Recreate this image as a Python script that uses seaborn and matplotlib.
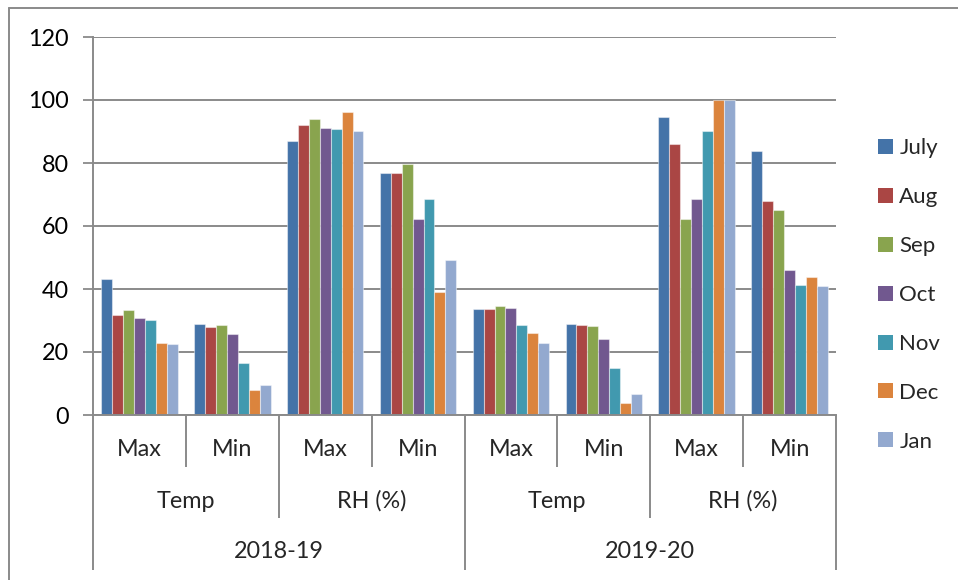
import matplotlib
matplotlib.use("Agg")
import matplotlib.pyplot as plt
from matplotlib.lines import Line2D
import seaborn as sns
import pandas as pd

# ---------------- data ----------------
years = ["2018-19", "2019-20"]
params = ["Temp", "RH (%)"]
stats = ["Max", "Min"]
months = ["July", "Aug", "Sep", "Oct", "Nov", "Dec", "Jan"]

# values per category (year / parameter / stat), one per month
temp_max_1819 = [43.2, 31.9, 33.2, 30.8, 30.2, 22.9, 22.4]
temp_min_1819 = [28.9, 27.8, 28.6, 25.7, 16.4, 7.9, 9.4]
rh_max_1819 = [87.0, 92.0, 94.0, 91.1, 90.7, 96.1, 90.1]
rh_min_1819 = [76.9, 76.9, 79.7, 62.3, 68.5, 39.0, 49.2]
temp_max_1920 = [33.7, 33.8, 34.6, 34.0, 28.6, 25.9, 22.9]
temp_min_1920 = [29.0, 28.6, 28.1, 24.2, 15.0, 3.8, 6.8]
rh_max_1920 = [94.5, 85.9, 62.3, 68.5, 90.1, 100.0, 100.0]
rh_min_1920 = [83.9, 67.9, 65.0, 45.9, 41.4, 43.9, 40.9]

colors = ["#4473A8", "#AA4644", "#89A44E", "#71588F", "#4199AF", "#DB843D", "#93A9CF"]
y_ticks = [0, 20, 40, 60, 80, 100, 120]

series = [
    ("2018-19", "Temp", "Max", temp_max_1819),
    ("2018-19", "Temp", "Min", temp_min_1819),
    ("2018-19", "RH (%)", "Max", rh_max_1819),
    ("2018-19", "RH (%)", "Min", rh_min_1819),
    ("2019-20", "Temp", "Max", temp_max_1920),
    ("2019-20", "Temp", "Min", temp_min_1920),
    ("2019-20", "RH (%)", "Max", rh_max_1920),
    ("2019-20", "RH (%)", "Min", rh_min_1920),
]

rows = []
for yr, par, st, vals in series:
    for m, v in zip(months, vals):
        rows.append({"cat": f"{yr}|{par}|{st}", "year": yr, "param": par,
                     "stat": st, "month": m, "value": v})
df = pd.DataFrame(rows)
cat_order = [f"{yr}|{par}|{st}" for yr, par, st, _ in series]

# ---------------- figure ----------------
sns.set_style("white")
plt.rcParams["font.family"] = ["Lato", "DejaVu Sans"]

W, H = 958, 580
fig = plt.figure(figsize=(W / 100, H / 100), dpi=100)
L, R, T, B = 93, 836, 37, 415
ax = fig.add_axes([L / W, 1 - B / H, (R - L) / W, (B - T) / H])

grid_c = "#8A8A8A"
sns.barplot(data=df, x="cat", y="value", hue="month", order=cat_order,
            hue_order=months, palette=colors, saturation=1, width=0.8235,
            dodge=True, ax=ax, errorbar=None, edgecolor=(1, 1, 1, 0.45),
            linewidth=0.8, zorder=3)

fs = 16.8
ax.set_xlim(-0.5, len(cat_order) - 0.5)
ax.set_ylim(0, 120)
ax.set_yticks(y_ticks)
ax.set_yticklabels([str(t) for t in y_ticks], fontsize=fs, color="black")
ax.yaxis.grid(True, color=grid_c, linewidth=1.4, zorder=0)
ax.set_axisbelow(True)
ax.tick_params(axis="y", length=7.2, width=1.3, color=grid_c, pad=10, direction="out", left=True)
ax.tick_params(axis="x", length=0, labelbottom=False)
ax.set_xlabel("")
ax.set_ylabel("")
for s in ["top", "right"]:
    ax.spines[s].set_visible(False)
for s in ["left", "bottom"]:
    ax.spines[s].set_color(grid_c)
    ax.spines[s].set_linewidth(1.4)
    ax.spines[s].set_zorder(4)

# ---------------- hierarchical category axis ----------------
ph = B - T
def ay(py):
    return (B - py) / ph

trans = ax.get_xaxis_transform()
lvl1, lvl2, lvl3 = ay(467), ay(518), ay(570)
n = len(cat_order)
for i in range(n + 1):
    x = i - 0.5
    if i % 4 == 0:
        y_end = lvl3
    elif i % 2 == 0:
        y_end = lvl2
    else:
        y_end = lvl1
    ax.plot([x, x], [0, y_end], transform=trans, color=grid_c, lw=1.4,
            clip_on=False, solid_capstyle="butt", zorder=5)

for i, (yr, par, st, _) in enumerate(series):
    ax.text(i, ay(450), st, transform=trans, ha="center", va="center", fontsize=fs)
for j in range(n // 2):
    ax.text(2 * j + 0.5, ay(501), series[2 * j][1], transform=trans,
            ha="center", va="center", fontsize=fs)
for k in range(n // 4):
    ax.text(4 * k + 1.5, ay(552), series[4 * k][0], transform=trans,
            ha="center", va="center", fontsize=fs)

# ---------------- legend ----------------
handles, labels = ax.get_legend_handles_labels()
leg = ax.legend(handles, labels, loc="center left",
                bbox_to_anchor=(878 / W, 1 - 295 / H), bbox_transform=fig.transFigure,
                frameon=False, fontsize=16, handlelength=0.66, handleheight=0.66,
                handletextpad=0.3, labelspacing=1.3, borderaxespad=0, borderpad=0)
for h in leg.legend_handles:
    h.set_edgecolor("none")

# ---------------- outer chart border ----------------
fig.add_artist(Line2D([9 / W, 9 / W], [0, 1 - 8 / H], transform=fig.transFigure,
                      color=grid_c, lw=1.4))
fig.add_artist(Line2D([9 / W, 1], [1 - 8 / H, 1 - 8 / H], transform=fig.transFigure,
                      color=grid_c, lw=1.4))

fig.savefig("out.png", dpi=100)
